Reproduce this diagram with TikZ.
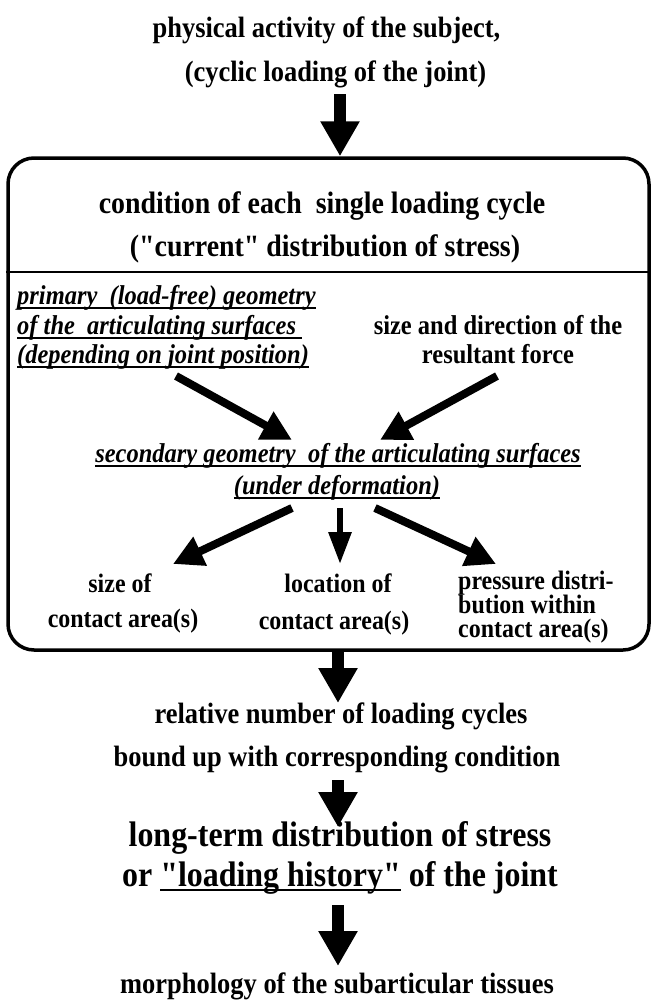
\documentclass[tikz,border=0pt]{standalone}
\usepackage{fontspec}
\setmainfont[Ligatures=TeXOff,FakeStretch=0.9]{Liberation Serif}
\usepackage{tikz}
\usetikzlibrary{arrows.meta}
\newcommand{\ulinetext}[1]{\setbox0\hbox{#1}\rlap{\vrule height -3pt depth 5pt width \wd0}\box0\relax}

\begin{document}
\begin{tikzpicture}[x=1pt,y=-1pt,
bodyText/.style={font=\fontsize{29.4}{33}\selectfont\bfseries,inner sep=0,anchor=base},
headText/.style={bodyText,font=\fontsize{31}{35}\selectfont\bfseries},
innerText/.style={bodyText,font=\fontsize{27.2}{31}\selectfont\bfseries},
slantText/.style={bodyText,font=\fontsize{27.2}{31}\selectfont\bfseries\itshape},
smallText/.style={bodyText,font=\fontsize{26.6}{30}\selectfont\bfseries},
bigText/.style={bodyText,font=\fontsize{35.5}{40}\selectfont\bfseries},
frame/.style={draw,line width=3.5pt,rounded corners=26pt,minimum width=641pt,
    minimum height=492pt,inner sep=0},
divider/.style={line width=2pt},
bigArrow/.style={line width=12pt,-{Triangle[width=37pt,length=35pt]}},
diagArrow/.style={line width=8pt,-{Triangle[width=30pt,length=30pt]}},
thinArrow/.style={line width=6pt,-{Triangle[width=22pt,length=32pt]}}
]
\useasboundingbox (0,0) rectangle (653,1001);
% input
\node[bodyText] (act) at (326.5,37) {physical activity of the subject,};
\node[bodyText] (cyc) at (335.5,81) {(cyclic loading of the joint)};
\coordinate (a1) at (340,94);
% single loading cycle
\node[frame] (cond) at (328.5,404) {};
\draw[bigArrow] (a1) -- (a1 |- cond.north);
\node[headText] (cnd) at (322,213) {condition of each\ \ single loading cycle};
\node[headText] (cur) at (325,256) {("current" distribution of stress)};
\draw[divider] (cond.west |- 0,272) -- (cond.east |- 0,272);
\node[slantText,anchor=base west] (prim1) at (17,304) {\ulinetext{primary\ \ (load-free) geometry}};
\node[slantText,anchor=base west] (prim2) at (17,334) {\ulinetext{of the\ \ articulating surfaces\ }};
\node[slantText,anchor=base west] (prim3) at (17,363) {\ulinetext{(depending on joint position)}};
\node[innerText] (force1) at (498,334) {size and direction of the};
\node[innerText] (force2) at (498,363) {resultant force};
\node[slantText] (sec1) at (338,462) {\ulinetext{secondary geometry\ \ of the articulating surfaces}};
\node[slantText] (sec2) at (337,494) {\ulinetext{(under deformation)}};
\coordinate (pOut) at (176,376);
\coordinate (fOut) at (497,376);
\coordinate (pIn) at (292,440);
\coordinate (fIn) at (380,440);
\draw[diagArrow] (pOut) -- (pIn);
\draw[diagArrow] (fOut) -- (fIn);
% consequences
\node[smallText] (size1) at (120,592) {size of};
\node[smallText] (size2) at (123,627) {contact area(s)};
\node[smallText] (loc1) at (338,592) {location of};
\node[smallText] (loc2) at (334,629) {contact area(s)};
\node[smallText,anchor=base west] (pres1) at (458,589) {pressure distri-};
\node[smallText,anchor=base west] (pres2) at (458,613) {bution within};
\node[smallText,anchor=base west] (pres3) at (458,637) {contact area(s)};
\coordinate (sL) at (292,508);
\coordinate (sM) at (340,508);
\coordinate (sR) at (375,508);
\draw[diagArrow] (sL) -- (173,564);
\draw[thinArrow] (sM) -- (340,564);
\draw[diagArrow] (sR) -- (496,564);
% long term
\coordinate (a2) at (338,703);
\draw[bigArrow] (cond.south -| a2) -- (a2);
\node[bodyText] (rel1) at (341,723) {relative number of loading cycles};
\node[bodyText] (rel2) at (337,766) {bound up with corresponding condition};
\coordinate (a3) at (338,780);
\draw[bigArrow] (a3) -- (338,827);
\node[bigText] (lt1) at (340,846) {long-term distribution of stress};
\node[bigText] (lt2) at (340,886) {or \ulinetext{"loading history"} of the joint};
\coordinate (a4) at (338,905);
\draw[bigArrow] (a4) -- (338,966);
\node[bodyText] (morph) at (337,993) {morphology of the subarticular tissues};
\end{tikzpicture}
\end{document}
